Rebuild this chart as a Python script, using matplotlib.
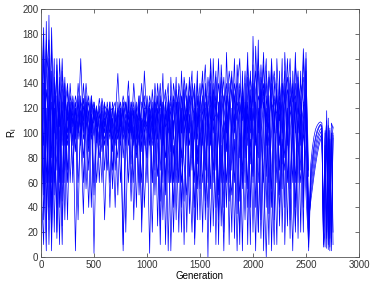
import numpy as np
import matplotlib
matplotlib.use("Agg")
import matplotlib.pyplot as plt

plt.rcParams['font.family'] = ['Liberation Sans', 'DejaVu Sans']

step = 25  # generations between samples in the main phase

s1 = [120, 185, 30, 160, 60, 140, 95, 120, 45, 130,
      110, 125, 90, 118, 105, 160, 100, 122, 70, 115,
      98, 120, 105, 60, 118, 112, 95, 125, 110, 148,
      100, 5, 115, 90, 120, 60, 112, 130, 85, 150,
      110, 3, 120, 70, 130, 95, 148, 60, 118, 100,
      40, 125, 110, 80, 140, 20, 115, 95, 135, 55,
      120, 150, 30, 110, 90, 140, 10, 125, 100, 60,
      165, 95, 20, 130, 110, 45, 150, 80, 120, 10,
      178, 100, 60, 140, 5, 120, 90, 155, 30, 115,
      70, 140, 100, 25, 130, 110, 60, 145, 90, 168,
      120, 20]
s2 = [60, 10, 190, 40, 150, 20, 130, 105, 160, 90,
      125, 60, 112, 100, 130, 95, 140, 110, 85, 125,
      115, 100, 122, 95, 110, 70, 120, 105, 90, 115,
      125, 80, 110, 142, 95, 118, 40, 120, 105, 90,
      130, 110, 60, 125, 100, 45, 120, 135, 5, 110,
      125, 90, 60, 150, 100, 115, 35, 120, 140, 75,
      100, 20, 135, 115, 55, 160, 90, 30, 120, 145,
      85, 120, 150, 15, 105, 135, 60, 110, 165, 40,
      120, 90, 175, 30, 135, 100, 10, 140, 120, 60,
      150, 20, 115, 160, 80, 5, 125, 100, 150, 40,
      135, 10]
s3 = [180, 80, 5, 195, 20, 110, 150, 40, 118, 100,
      70, 130, 118, 5, 112, 125, 95, 115, 130, 100,
      120, 110, 90, 128, 115, 100, 60, 118, 125, 95,
      110, 120, 100, 60, 125, 112, 85, 130, 20, 118,
      100, 125, 95, 140, 110, 70, 125, 10, 115, 130,
      95, 145, 60, 120, 10, 110, 130, 80, 100, 150,
      65, 110, 120, 0, 140, 100, 125, 50, 155, 115,
      40, 125, 100, 160, 70, 20, 130, 115, 55, 150,
      100, 5, 130, 120, 165, 65, 115, 40, 145, 100,
      125, 55, 165, 110, 30, 120, 140, 15, 125, 100,
      160, 5]
s4 = [5, 140, 100, 60, 185, 90, 40, 160, 110, 70,
      118, 105, 125, 95, 140, 110, 80, 118, 100, 122,
      3, 112, 118, 100, 125, 90, 115, 55, 120, 105,
      90, 125, 20, 115, 100, 140, 110, 90, 125, 115,
      60, 120, 100, 130, 25, 115, 90, 120, 140, 60,
      110, 30, 130, 100, 120, 140, 70, 20, 125, 110,
      140, 100, 70, 125, 150, 25, 110, 160, 80, 5,
      120, 140, 95, 60, 155, 115, 5, 125, 100, 135,
      60, 170, 110, 15, 100, 150, 120, 70, 10, 160,
      110, 125, 40, 130, 160, 85, 20, 120, 110, 55,
      130, 30]
s5 = [150, 30, 120, 10, 100, 160, 15, 125, 60, 140,
      100, 118, 60, 125, 110, 90, 128, 105, 118, 40,
      125, 110, 95, 120, 100, 125, 105, 95, 118, 50,
      115, 100, 125, 105, 45, 110, 120, 100, 60, 125,
      115, 95, 135, 105, 120, 10, 110, 125, 90, 60,
      130, 110, 20, 115, 135, 90, 145, 100, 40, 120,
      30, 125, 155, 100, 20, 115, 130, 100, 60, 125,
      140, 10, 120, 105, 135, 160, 95, 30, 115, 100,
      140, 115, 20, 125, 155, 90, 130, 5, 110, 135,
      25, 100, 130, 145, 110, 60, 155, 130, 20, 125,
      100, 25]
s6 = [100, 170, 60, 130, 5, 145, 110, 10, 150, 118,
      140, 100, 125, 110, 30, 118, 105, 140, 112, 95,
      120, 105, 128, 110, 90, 120, 112, 100, 40, 125,
      105, 118, 90, 120, 110, 95, 125, 50, 112, 105,
      125, 100, 20, 115, 95, 130, 100, 115, 60, 145,
      100, 70, 125, 40, 115, 100, 125, 150, 10, 110,
      115, 95, 45, 130, 105, 60, 145, 115, 25, 110,
      100, 130, 70, 115, 35, 125, 110, 150, 90, 120,
      20, 125, 100, 155, 110, 40, 150, 120, 95, 10,
      140, 110, 80, 120, 15, 150, 105, 60, 130, 145,
      70, 15]
s7 = [40, 120, 175, 90, 20, 120, 70, 145, 25, 105,
      90, 140, 105, 120, 100, 130, 60, 112, 125, 105,
      110, 60, 100, 125, 105, 118, 40, 110, 100, 120,
      60, 112, 125, 105, 118, 90, 115, 110, 140, 100,
      110, 90, 125, 50, 115, 120, 30, 105, 125, 95,
      140, 120, 100, 60, 95, 130, 110, 70, 120, 30,
      125, 90, 140, 105, 130, 95, 40, 120, 140, 100,
      60, 110, 135, 115, 90, 10, 140, 100, 125, 75,
      155, 40, 120, 95, 60, 130, 100, 160, 110, 130,
      90, 160, 10, 100, 125, 135, 40, 110, 95, 160,
      110, 30]
s8 = [170, 50, 135, 110, 170, 60, 100, 120, 90, 145,
      60, 100, 130, 112, 95, 125, 118, 55, 105, 130,
      110, 122, 60, 110, 95, 105, 125, 85, 112, 100,
      118, 105, 95, 125, 75, 120, 105, 95, 110, 40,
      95, 120, 110, 95, 65, 125, 115, 50, 130, 105,
      20, 100, 140, 125, 75, 50, 120, 130, 95, 140,
      110, 60, 100, 145, 120, 130, 70, 100, 130, 40,
      130, 60, 110, 140, 120, 100, 55, 140, 10, 130,
      110, 135, 150, 100, 125, 110, 60, 100, 130, 105,
      115, 75, 140, 60, 120, 100, 165, 85, 115, 20,
      165, 25]
s9 = [20, 160, 110, 30, 125, 100, 155, 60, 135, 30,
      120, 100, 118, 85, 125, 105, 122, 100, 40, 110,
      125, 95, 112, 118, 70, 110, 100, 120, 95, 112,
      120, 95, 110, 100, 125, 30, 105, 120, 95, 110,
      105, 130, 115, 95, 140, 110, 60, 125, 100, 120,
      60, 115, 135, 100, 145, 125, 90, 110, 60, 130,
      90, 130, 110, 60, 100, 120, 150, 10, 115, 130,
      120, 45, 95, 130, 140, 80, 125, 60, 145, 110,
      130, 100, 80, 145, 130, 160, 35, 125, 100, 140,
      50, 120, 150, 90, 140, 100, 120, 150, 70, 110,
      50, 8]
s10 = [130, 90, 160, 150, 40, 120, 20, 100, 125, 60,
       135, 112, 95, 120, 100, 118, 110, 130, 95, 115,
       60, 118, 110, 85, 122, 118, 100, 112, 70, 118,
       95, 125, 112, 118, 100, 125, 105, 60, 120, 130,
       90, 115, 105, 120, 110, 140, 95, 115, 120, 85,
       120, 135, 115, 20, 125, 110, 140, 120, 115, 95,
       130, 115, 125, 90, 160, 110, 115, 140, 110, 95,
       115, 150, 130, 100, 125, 115, 130, 95, 155, 120,
       95, 125, 160, 120, 140, 105, 145, 120, 125, 115,
       130, 100, 120, 135, 120, 140, 100, 140, 125, 110,
       150, 70]
s11 = [110, 60, 145, 175, 80, 130, 105, 125, 140, 110,
       95, 120, 108, 130, 118, 100, 112, 125, 110, 100,
       118, 92, 115, 105, 112, 100, 118, 120, 105, 95,
       112, 130, 118, 100, 112, 118, 95, 125, 100, 120,
       120, 105, 90, 125, 115, 100, 125, 105, 110, 125,
       105, 125, 100, 130, 110, 120, 100, 140, 125, 105,
       125, 140, 110, 120, 95, 135, 120, 110, 145, 120,
       105, 125, 145, 120, 110, 140, 120, 105, 130, 145,
       125, 150, 105, 135, 120, 140, 110, 130, 150, 125,
       110, 140, 125, 110, 145, 125, 130, 115, 140, 125,
       120, 65]
s12 = [80, 180, 20, 120, 140, 50, 160, 90, 10, 130,
       30, 125, 70, 110, 60, 100, 35, 125, 90, 130,
       50, 100, 80, 115, 30, 95, 125, 70, 100, 80,
       120, 10, 90, 130, 60, 105, 80, 115, 30, 100,
       80, 115, 60, 105, 90, 25, 100, 80, 125, 5,
       90, 60, 110, 80, 45, 125, 65, 100, 15, 90,
       55, 110, 85, 40, 120, 70, 100, 35, 90, 20,
       110, 80, 50, 95, 5, 100, 70, 120, 40, 95,
       65, 110, 20, 100, 70, 0, 95, 55, 110, 75,
       40, 95, 70, 115, 55, 105, 25, 90, 60, 100,
       80, 12]

# late phase (after the main run): recovery curves then oscillation
tail_gen = [2545, 2560, 2575, 2590, 2605, 2620, 2635, 2650,
            2665, 2680, 2695, 2710, 2725, 2740, 2755]
t1 = [75, 88, 97, 103, 106, 108, 109, 108, 15, 60, 104, 10, 95, 20, 100]
t2 = [68, 80, 90, 97, 102, 105, 107, 106, 10, 100, 20, 112, 8, 90, 105]
t3 = [60, 72, 82, 90, 96, 100, 103, 104, 30, 8, 98, 40, 104, 12, 96]
t4 = [55, 66, 76, 85, 92, 97, 100, 102, 12, 95, 110, 6, 60, 100, 20]
t5 = [50, 60, 70, 79, 87, 93, 97, 99, 8, 40, 118, 20, 102, 5, 98]
t6 = [64, 76, 87, 95, 100, 104, 106, 105, 25, 102, 7, 96, 15, 108, 104]
t7 = [45, 55, 65, 74, 82, 89, 94, 97, 18, 90, 15, 106, 5, 100, 10]

main_series = [s1, s2, s3, s4, s5, s6, s7, s8, s9, s10, s11, s12]
tails = [t1, t2, t3, t4, t5, t6, t7]

fig = plt.figure(figsize=(3.74, 2.85), dpi=100)
ax = fig.add_axes([0.1096, 0.0982, 0.8503, 0.8702])

for i, s in enumerate(main_series):
    x = list(np.arange(len(s)) * step)
    y = list(s)
    if i < len(tails):
        t = tails[i]
        x += tail_gen[:len(t)]
        y += t
    ax.plot(x, y, color=(0, 0, 1), lw=0.5)

ax.set_xlim(0, 3000)
ax.set_ylim(0, 200)
ax.set_xticks(np.arange(0, 3001, 500))
ax.set_yticks(np.arange(0, 201, 20))
ax.tick_params(direction='in', top=True, right=True, labelsize=7,
               length=3, width=0.5, colors='#333333', pad=2)
for sp in ax.spines.values():
    sp.set_linewidth(0.6)
    sp.set_color('#555555')
ax.set_xlabel('Generation', fontsize=7, labelpad=1)
ax.set_ylabel(r'$\mathregular{R_i}$', fontsize=7, labelpad=2)

fig.savefig('out.png', dpi=100)
